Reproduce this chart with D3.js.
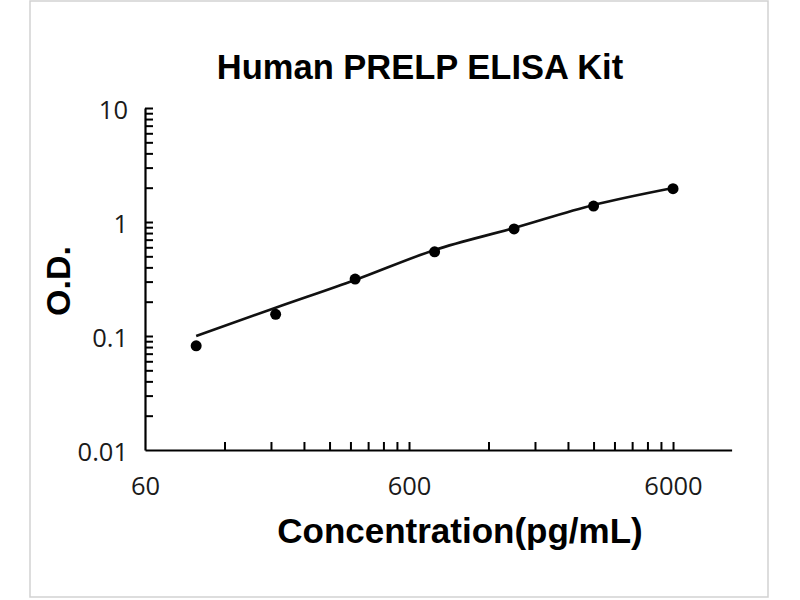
<!DOCTYPE html>
<html>
<head>
<meta charset="utf-8">
<script src="https://cdn.jsdelivr.net/npm/d3@7/dist/d3.min.js"></script>
<style>
  html, body { margin: 0; padding: 0; background: #fff; }
  svg { display: block; }
</style>
</head>
<body>
<svg id="chart" width="800" height="600"></svg>
<script>
// ---- data ----
const concentrations = [93.75, 187.5, 375, 750, 1500, 3000, 6000];
const odValues       = [0.082, 0.155, 0.316, 0.548, 0.869, 1.38, 1.96];
const fitValues      = [0.100, 0.177, 0.310, 0.568, 0.886, 1.41, 1.99];
const xTickValues    = [60, 600, 6000];
const xTickLabels    = ["60", "600", "6000"];
const yTickValues    = [0.01, 0.1, 1, 10];
const yTickLabels    = ["0.01", "0.1", "1", "10"];
const titleText  = "Human PRELP ELISA Kit";
const xLabelText = "Concentration(pg/mL)";
const yLabelText = "O.D.";

// ---- layout ----
const svg = d3.select("#chart");
const x = d3.scaleLog().domain([60, 10000]).range([145, 731.6]);
const y = d3.scaleLog().domain([0.01, 10]).range([450, 108]);

// frame
svg.append("rect")
  .attr("x", 30).attr("y", 1).attr("width", 738).attr("height", 596)
  .attr("fill", "none").attr("stroke", "#d2d2d2").attr("stroke-width", 1.5);

// minor/major tick positions
const xMinor = [];
[60, 600].forEach(b => { for (let k = 2; k <= 10; k++) xMinor.push(b * k); });
const yMinor = [];
[0.01, 0.1, 1].forEach(b => { for (let k = 2; k <= 10; k++) yMinor.push(+(b * k).toFixed(4)); });

// x axis line + ticks
const gx = svg.append("g").attr("transform", `translate(0,${y.range()[0]})`)
  .call(d3.axisBottom(x).tickValues(xMinor).tickSize(-8).tickSizeOuter(0).tickFormat(""));
gx.select(".domain").attr("stroke", "#000").attr("stroke-width", 2.2);
gx.selectAll(".tick line").attr("stroke", "#000").attr("stroke-width", 2);

// y axis line + ticks
const gy = svg.append("g").attr("transform", `translate(${x.range()[0]},0)`)
  .call(d3.axisLeft(y).tickValues(yMinor).tickSize(-8).tickSizeOuter(0).tickFormat(""));
gy.select(".domain").attr("stroke", "#000").attr("stroke-width", 2.2);
gy.selectAll(".tick line").attr("stroke", "#000").attr("stroke-width", 2);

// tick labels
const labFont = "'Open Sans', 'Liberation Sans', sans-serif";
const gxl = svg.append("g").attr("transform", `translate(0,${y.range()[0]})`)
  .call(d3.axisBottom(x).tickValues(xTickValues).tickSize(0)
        .tickPadding(27).tickFormat((d, i) => xTickLabels[i]));
gxl.select(".domain").remove();
gxl.selectAll("text").attr("font-family", labFont).attr("font-size", 25.5)
  .attr("fill", "#1a1a1a");

const gyl = svg.append("g").attr("transform", `translate(${x.range()[0]},0)`)
  .call(d3.axisLeft(y).tickValues(yTickValues).tickSize(0)
        .tickPadding(17).tickFormat((d, i) => yTickLabels[i]));
gyl.select(".domain").remove();
gyl.selectAll("text").attr("font-family", labFont).attr("font-size", 25.5)
  .attr("fill", "#1a1a1a").attr("dy", "0.40em");

// fitted curve
const line = d3.line()
  .x((d, i) => x(concentrations[i]))
  .y(d => y(d))
  .curve(d3.curveMonotoneX);
svg.append("path").datum(fitValues)
  .attr("d", line).attr("fill", "none")
  .attr("stroke", "#111").attr("stroke-width", 2.6);

// data points
svg.append("g").selectAll("circle").data(odValues).join("circle")
  .attr("cx", (d, i) => x(concentrations[i]))
  .attr("cy", d => y(d))
  .attr("r", 5.5).attr("fill", "#000");

// titles
const boldFont = "'Liberation Sans', Arial, sans-serif";
svg.append("text").text(titleText)
  .attr("x", 420).attr("y", 79).attr("text-anchor", "middle")
  .attr("font-family", boldFont).attr("font-weight", "bold").attr("font-size", 34.5)
  .attr("fill", "#000");

svg.append("text").text(xLabelText)
  .attr("x", 460).attr("y", 543).attr("text-anchor", "middle")
  .attr("font-family", boldFont).attr("font-weight", "bold").attr("font-size", 35)
  .attr("fill", "#000");

svg.append("text").text(yLabelText)
  .attr("transform", "translate(70,281) rotate(-90)").attr("text-anchor", "middle")
  .attr("font-family", boldFont).attr("font-weight", "bold").attr("font-size", 34)
  .attr("fill", "#000");
</script>
</body>
</html>
